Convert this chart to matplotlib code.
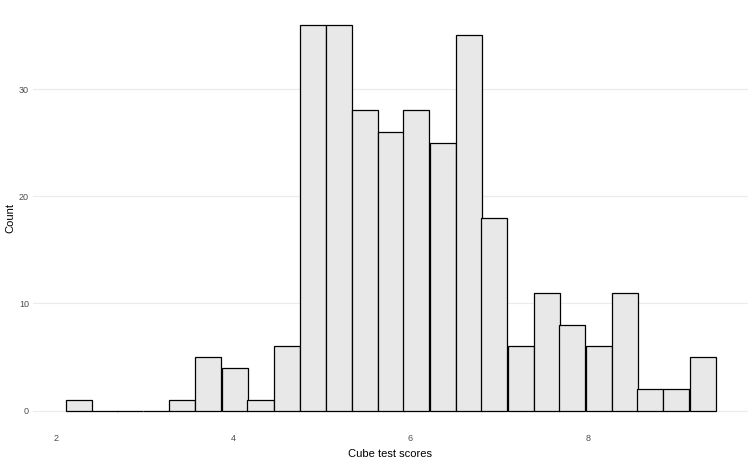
import matplotlib
matplotlib.use("Agg")
import matplotlib.pyplot as plt
import numpy as np

plt.rcParams["font.family"] = ["Liberation Sans", "DejaVu Sans"]

# histogram of cube test scores: 25 equal-width bins
bin_lo = 2.11
bin_hi = 9.44
counts = [1, 0, 0, 0, 1, 5, 4, 1, 6, 36, 36, 28, 26, 28, 25, 35, 18, 6, 11, 8, 6, 11, 2, 2, 5]
x_ticks = [2, 4, 6, 8]
y_ticks = [0, 10, 20, 30]

edges = np.linspace(bin_lo, bin_hi, len(counts) + 1)
width = edges[1] - edges[0]

fig = plt.figure(figsize=(7.49, 4.63), dpi=100)
ax = fig.add_axes([33 / 749, 1 - 430 / 463, 715 / 749, (430 - 5.4) / 463])

ax.bar(edges[:-1], counts, width=width, align="edge",
       color="#e8e8e8", edgecolor="black", linewidth=0.9, zorder=2)

span = bin_hi - bin_lo
ax.set_xlim(bin_lo - 0.05 * span, bin_hi + 0.05 * span)
ax.set_ylim(-0.05 * max(counts), 1.05 * max(counts))

ax.set_xticks(x_ticks)
ax.set_yticks(y_ticks)
ax.tick_params(length=0, labelsize=6.5, labelcolor="#4d4d4d", pad=3)
ax.yaxis.grid(True, color="#ebebeb", linewidth=0.8, zorder=0)
ax.xaxis.grid(False)
for s in ax.spines.values():
    s.set_visible(False)

ax.set_xlabel("Cube test scores", fontsize=8)
ax.set_ylabel("Count", fontsize=8)
ax.xaxis.set_label_coords(0.5, -0.045)
ax.yaxis.set_label_coords(-0.024, 0.5)

fig.savefig("out.png", dpi=100)
